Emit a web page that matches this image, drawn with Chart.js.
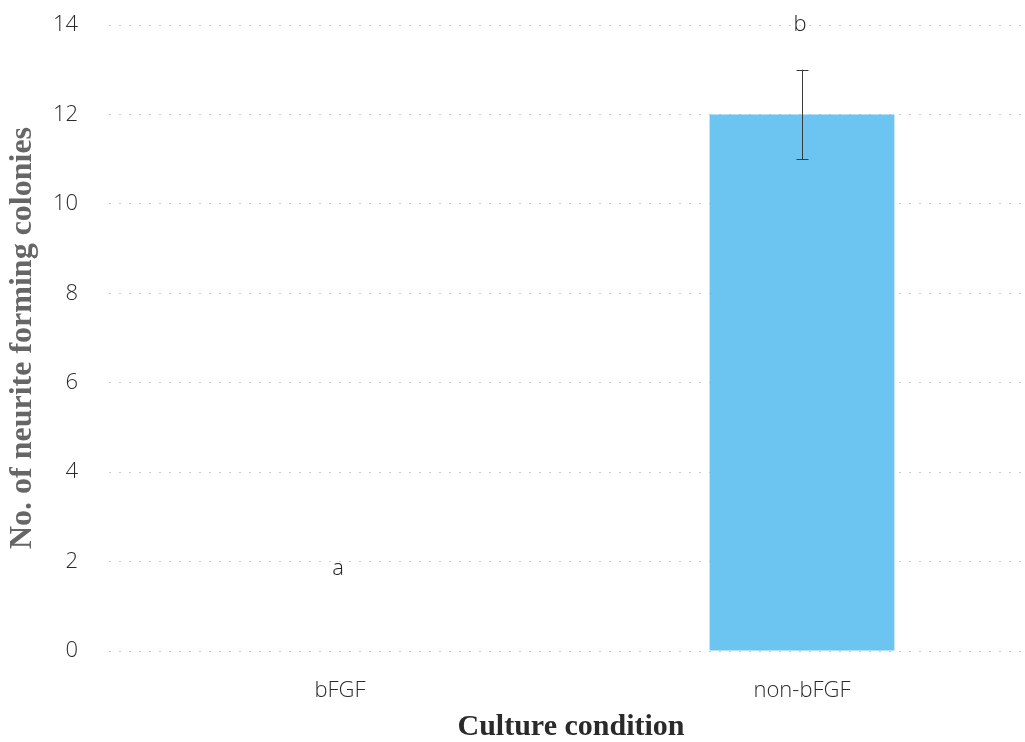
<!DOCTYPE html>
<html>
<head>
<meta charset="utf-8">
<script src="https://cdn.jsdelivr.net/npm/chart.js@4"></script>
<style>
  html, body { margin: 0; padding: 0; background: #ffffff; overflow: hidden; }
  #wrap { width: 1033px; height: 742px; position: relative; }
</style>
</head>
<body>
<div id="wrap"><canvas id="c"></canvas></div>
<script>
// Culture conditions and colony counts
const categories = ['bFGF', 'non-bFGF'];
const colonyCounts = [0, 12];
const colonyErrors = [0, 1];
// Significance letters and the value level each one sits at
const sigLetters = ['a', 'b'];
const sigLevels = [1.85, 14];
const yTicks = [0, 2, 4, 6, 8, 10, 12, 14];

const errorBarsAndLetters = {
  id: 'errorBarsAndLetters',
  afterDatasetsDraw(chart) {
    const ctx = chart.ctx;
    const meta = chart.getDatasetMeta(0);
    const y = chart.scales.y;
    ctx.save();
    meta.data.forEach((bar, i) => {
      const e = colonyErrors[i];
      if (e > 0) {
        const top = y.getPixelForValue(colonyCounts[i] + e);
        const bot = y.getPixelForValue(colonyCounts[i] - e);
        const x = Math.round(bar.x) + 0.5;
        ctx.strokeStyle = '#3a3a3a';
        ctx.lineWidth = 1;
        ctx.beginPath();
        ctx.moveTo(x, top); ctx.lineTo(x, bot);
        ctx.moveTo(x - 6, Math.round(top) + 0.5); ctx.lineTo(x + 6, Math.round(top) + 0.5);
        ctx.moveTo(x - 6, Math.round(bot) + 0.5); ctx.lineTo(x + 6, Math.round(bot) + 0.5);
        ctx.stroke();
      }
      ctx.fillStyle = '#222222';
      ctx.font = '300 22px "Open Sans", sans-serif';
      ctx.textAlign = 'center';
      ctx.textBaseline = 'middle';
      ctx.fillText(sigLetters[i], bar.x - 2, y.getPixelForValue(sigLevels[i]));
    });
    ctx.restore();
  }
};

new Chart(document.getElementById('c'), {
  type: 'bar',
  data: {
    labels: categories,
    datasets: [{
      data: colonyCounts,
      backgroundColor: 'rgb(108,196,240)',
      borderWidth: 0,
      barPercentage: 0.40,
      categoryPercentage: 1.0
    }]
  },
  options: {
    responsive: true,
    maintainAspectRatio: false,
    animation: false,
    layout: { padding: { top: 25, right: 0, left: 0, bottom: 0 } },
    plugins: { legend: { display: false }, tooltip: { enabled: false } },
    scales: {
      x: {
        grid: { display: false },
        border: { display: false },
        ticks: {
          color: '#2a2a2a',
          padding: 19,
          font: { family: '"Open Sans", sans-serif', size: 22, weight: '300' }
        },
        title: {
          display: true,
          text: 'Culture condition',
          color: '#2a2a2a',
          padding: { top: 0, bottom: 0 },
          font: { family: '"Liberation Serif", "Times New Roman", serif', size: 30, weight: 'bold', lineHeight: 1.0 }
        },
        afterFit(scale) { scale.height = 91; scale.paddingLeft = 0; scale.paddingRight = 0; }
      },
      y: {
        min: 0,
        max: 14,
        afterBuildTicks(scale) { scale.ticks = yTicks.map(v => ({ value: v })); },
        grid: { color: '#cccccc', lineWidth: 1, drawTicks: false },
        border: { display: false, dash: [2, 8] },
        ticks: {
          color: '#2a2a2a',
          padding: 31,
          font: { family: '"Open Sans", sans-serif', size: 22, weight: '300' }
        },
        title: {
          display: true,
          text: 'No. of neurite forming colonies',
          color: '#666666',
          padding: { top: 4, bottom: 0 },
          font: { family: '"Liberation Serif", "Times New Roman", serif', size: 32, weight: 'bold' }
        },
        afterFit(scale) { scale.width = 109; scale.paddingTop = 0; scale.paddingBottom = 0; }
      }
    }
  },
  plugins: [errorBarsAndLetters]
});
</script>
</body>
</html>
